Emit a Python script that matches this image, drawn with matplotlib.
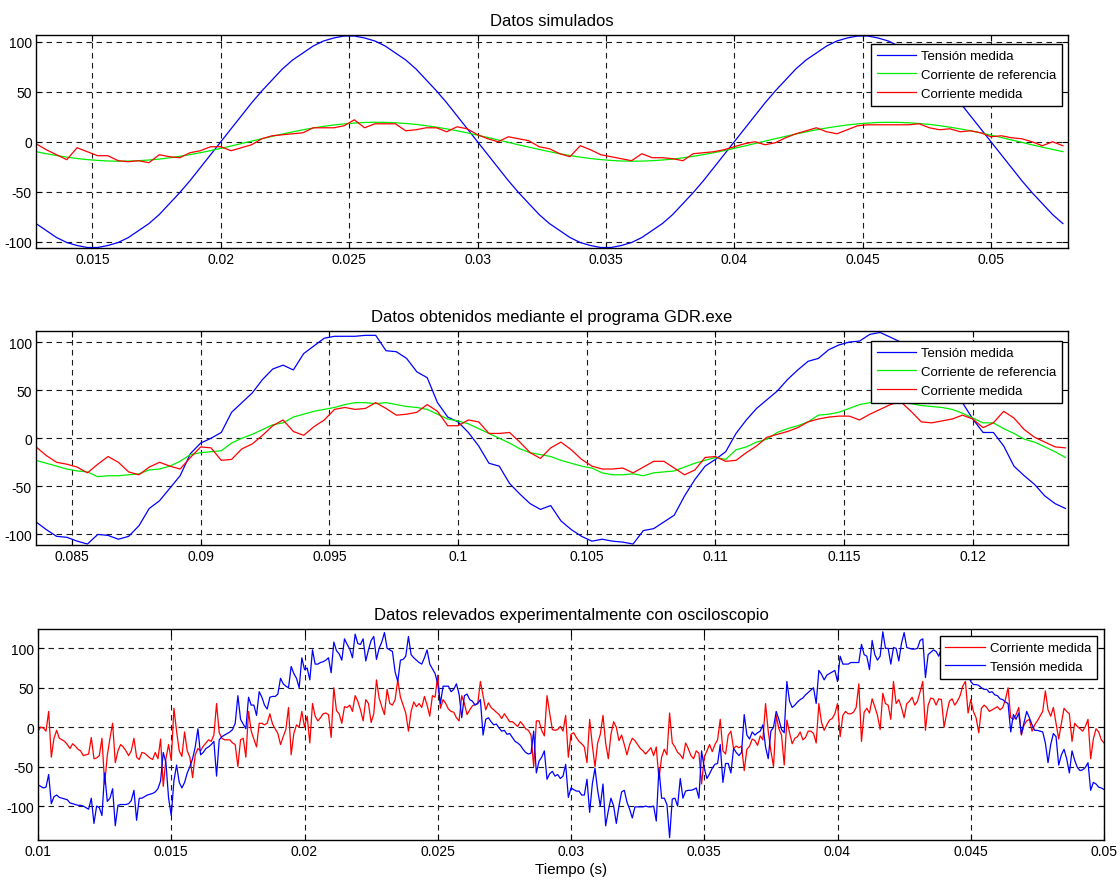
import numpy as np
import matplotlib
matplotlib.use("Agg")
import matplotlib.pyplot as plt
from matplotlib.ticker import FixedLocator, FuncFormatter

plt.rcParams['font.family'] = ['Liberation Sans', 'DejaVu Sans']

# ---------------- Datos simulados (paso 0.4 ms) ----------------
sim_t0, sim_dt = 0.0128, 0.0004
sim_tension = [
    -82, -89, -96, -101, -104, -106, -106, -104, -101, -96,
    -89, -82, -73, -62, -51, -39, -26, -13, 0, 13,
    26, 39, 51, 62, 73, 82, 89, 96, 101, 104,
    106, 106, 104, 101, 96, 89, 82, 73, 62, 51,
    39, 26, 13, 0, -13, -26, -39, -51, -62, -73,
    -82, -89, -96, -101, -104, -106, -106, -104, -101, -96,
    -89, -82, -73, -62, -51, -39, -26, -13, 0, 13,
    26, 39, 51, 62, 73, 82, 89, 96, 101, 104,
    106, 106, 104, 101, 96, 89, 82, 73, 62, 51,
    39, 26, 13, 0, -13, -26, -39, -51, -62, -73,
    -82]
sim_iref = [
    -9.9, -12.0, -13.8, -15.4, -16.8, -17.9, -18.7, -19.3, -19.5, -19.4,
    -19.0, -18.3, -17.4, -16.1, -14.6, -12.9, -11.0, -8.9, -6.6, -4.3,
    -1.8, 0.6, 3.1, 5.4, 7.7, 9.9, 12.0, 13.8, 15.4, 16.8,
    17.9, 18.7, 19.3, 19.5, 19.4, 19.0, 18.3, 17.4, 16.1, 14.6,
    12.9, 11.0, 8.9, 6.6, 4.3, 1.8, -0.6, -3.1, -5.4, -7.7,
    -9.9, -12.0, -13.8, -15.4, -16.8, -17.9, -18.7, -19.3, -19.5, -19.4,
    -19.0, -18.3, -17.4, -16.1, -14.6, -12.9, -11.0, -8.9, -6.6, -4.3,
    -1.8, 0.6, 3.1, 5.4, 7.7, 9.9, 12.0, 13.8, 15.4, 16.8,
    17.9, 18.7, 19.3, 19.5, 19.4, 19.0, 18.3, 17.4, 16.1, 14.6,
    12.9, 11.0, 8.9, 6.6, 4.3, 1.8, -0.6, -3.1, -5.4, -7.7,
    -9.9]
sim_imed = [
    -2, -8, -13, -18, -6, -10, -14, -14, -19, -20,
    -19, -21, -13, -15, -16, -11, -9, -5, -5, -9,
    -6, -3, 3, 6, 7, 8, 9, 14, 14, 14,
    16, 22, 14, 18, 18, 18, 11, 12, 14, 14,
    10, 15, 13, 7, 3, 0, 5, 3, 1, -5,
    -7, -12, -15, -4, -8, -13, -15, -17, -19, -12,
    -16, -16, -17, -19, -12, -11, -10, -8, -5, -2,
    0, -3, -1, 4, 8, 11, 14, 10, 8, 12,
    16, 17, 17, 17, 17, 17, 18, 14, 12, 13,
    10, 11, 9, 5, 6, 4, 3, 0, -4, 0,
    -4]

# ---------------- Datos GDR.exe (paso 0.4 ms) ----------------
gdr_t0, gdr_dt = 0.0836, 0.0004
gdr_tension = [
    -87, -95, -102, -103, -107, -110, -100, -101, -105, -102,
    -91, -73, -65, -52, -39, -16, -5, 0, 6, 27,
    37, 47, 61, 72, 76, 71, 88, 96, 104, 106,
    106, 106, 107, 107, 91, 90, 83, 69, 63, 37,
    22, 17, 6, -8, -26, -29, -47, -58, -68, -74,
    -70, -86, -95, -102, -107, -105, -107, -108, -110, -96,
    -94, -87, -80, -60, -43, -29, -22, -14, 5, 19,
    31, 40, 49, 61, 71, 80, 83, 92, 97, 100,
    101, 108, 110, 105, 100, 92, 88, 80, 70, 55,
    37, 20, 6, 6, -8, -29, -39, -48, -60, -68,
    -73]
gdr_iref = [
    -23, -26, -29, -32, -34, -35, -40, -39, -39, -38,
    -37, -33, -32, -29, -24, -17, -15, -14, -13, -5,
    0, 4, 9, 14, 16, 22, 25, 28, 30, 32,
    35, 37, 37, 36, 37, 35, 33, 32, 30, 25,
    20, 18, 15, 10, 5, 0, -5, -11, -15, -17,
    -19, -23, -26, -29, -31, -36, -38, -38, -37, -39,
    -36, -35, -34, -30, -26, -23, -20, -22, -12, -9,
    -4, -1, 6, 10, 13, 17, 24, 25, 27, 31,
    35, 37, 38, 38, 37, 36, 34, 33, 32, 30,
    26, 21, 16, 16, 10, 5, -1, -4, -9, -14,
    -20]
gdr_imed = [
    -9, -18, -25, -27, -30, -36, -27, -19, -25, -35,
    -38, -30, -25, -29, -32, -20, -9, -10, -23, -22,
    -11, -6, 3, 13, 19, 7, 3, 12, 19, 30,
    32, 30, 31, 37, 31, 24, 25, 27, 35, 28,
    13, 13, 19, 17, 5, 5, 6, -4, -15, -21,
    -10, -4, -12, -22, -29, -32, -32, -31, -36, -30,
    -24, -24, -31, -38, -33, -20, -19, -24, -23, -15,
    -8, 1, 4, 7, 11, 17, 20, 22, 23, 23,
    19, 25, 30, 35, 38, 28, 17, 16, 18, 20,
    24, 20, 11, 16, 28, 21, 9, 1, -4, -9,
    -10]

# ---------------- Datos de osciloscopio (paso 0.1 ms) ----------------
osc_t0, osc_dt = 0.01, 0.0001
osc_corriente = [
    -5, 0, -1, -5, 20, -38, -14, -4, -14, -16,
    -18, -22, -27, -21, -24, -28, -30, -36, -35, -34,
    -13, -40, -39, -36, -14, -72, -36, -14, 5, -45,
    -30, -22, -25, -30, -36, -30, -14, -38, -41, -32,
    -33, -36, -39, -41, -32, -40, -15, -75, -40, -22,
    -42, 24, -5, -30, -37, -6, -30, -38, -64, -35,
    -27, -30, -24, -20, -16, -18, -10, 30, -7, -14,
    -16, -16, -16, -20, -22, -50, -16, -14, -38, 20,
    -5, -15, -25, 5, 5, 3, 5, 17, 4, -2,
    -8, -22, -12, -3, 25, -35, -8, 3, 0, 20,
    0, 14, -20, 30, 14, 8, 12, 17, 18, 16,
    -13, 50, 21, 17, 5, 26, 25, 28, 20, 40,
    33, 22, 8, 35, 30, 6, 17, 60, 37, 26,
    16, 48, 30, 28, 35, 60, 38, 28, 18, -5,
    20, 32, 26, 30, 25, 39, 28, 14, 40, 38,
    66, 24, 35, 30, 23, 20, 19, 12, 8, 40,
    30, 16, 22, 27, 29, 30, 58, 40, 22, 31,
    25, 22, 19, 16, 11, 17, 12, 7, 7, 4,
    1, 7, 3, -2, -4, -10, -50, 8, 8, -4,
    -11, 40, 18, -3, -4, -3, 1, -5, 15, -38,
    -9, -7, -13, -18, -21, -25, -45, 10, -23, -50,
    -20, -9, 15, -20, -40, -9, 7, 0, -17, -10,
    -22, -35, -22, -14, -17, -22, -27, -30, -34, -30,
    -26, -36, -25, -66, -38, -28, -35, 18, -20, -25,
    -32, -35, -40, -20, -27, -36, -40, -30, -33, -72,
    -38, -30, -22, -31, -22, -16, 10, -30, -34, -10,
    -5, -27, -24, -26, -24, -55, -28, -24, -15, -17,
    -23, -11, -16, 30, -5, -30, -50, 15, -2, -10,
    -48, 9, -7, -21, -14, -12, -6, -16, -13, -5,
    -5, -8, -20, 30, 6, -4, 3, 9, 11, 17,
    30, -12, 15, 20, 17, 17, 19, 25, 55, -18,
    19, 24, 18, 36, 26, 15, -3, 43, 30, 28,
    10, 58, 30, 35, 25, 12, 30, 33, 38, 28,
    33, 45, 58, -4, 28, 37, 36, 28, 36, 35,
    0, 18, 33, 36, 28, 33, 40, 52, 58, 18,
    35, 20, 12, -7, 24, 28, 25, 20, 22, 24,
    26, 22, 25, 35, 50, 12, 10, 16, 25, -10,
    3, 8, 10, -5, 3, 8, 14, 20, 46, 22,
    14, 25, 5, -15, 5, 24, 20, 17, -18, 5,
    1, -2, -5, 1, 10, -40, -15, -2, -6, -16,
    -20]
osc_tension = [
    -73, -75, -77, -76, -60, -97, -88, -86, -89, -90,
    -91, -92, -96, -97, -98, -99, -99, -100, -102, -104,
    -90, -122, -100, -102, -112, -58, -94, -90, -78, -125,
    -99, -98, -98, -98, -97, -93, -80, -118, -90, -90,
    -88, -86, -85, -84, -82, -78, -68, -32, -45, -90,
    -112, -68, -48, -70, -77, -70, -58, -50, -40, -25,
    -2, -35, -32, -27, -25, -22, -18, -62, -16, -12,
    -10, -8, -6, -3, 5, 40, 10, 4, -2, 38,
    28, 28, 15, 45, 38, 28, 23, 38, 39, 39,
    42, 62, 55, 52, 50, 77, 68, 62, 50, 88,
    73, 75, 60, 98, 80, 80, 82, 83, 85, 88,
    69, 108, 97, 93, 85, 112, 105, 99, 88, 118,
    106, 105, 112, 84, 98, 110, 115, 86, 100, 108,
    120, 100, 98, 96, 70, 58, 85, 86, 90, 115,
    92, 88, 85, 82, 80, 88, 98, 80, 74, 68,
    55, 30, 52, 52, 52, 45, 48, 55, 42, 12,
    40, 42, 35, 33, 28, 30, 35, -10, 10, 12,
    7, 3, 4, -1, -5, -4, -9, -8, -13, -18,
    -20, -23, -28, -32, -34, -33, -5, -58, -43, -38,
    -30, -66, -59, -56, -62, -60, -65, -62, -47, -89,
    -77, -79, -81, -81, -86, -86, -66, -108, -72, -52,
    -80, -100, -72, -125, -106, -90, -100, -122, -100, -82,
    -80, -95, -104, -115, -101, -101, -101, -101, -100, -101,
    -101, -100, -119, -52, -90, -90, -98, -140, -91, -90,
    -100, -65, -90, -81, -80, -80, -79, -77, -90, -30,
    -52, -65, -59, -52, -47, -46, -22, -70, -46, -46,
    -58, -27, -32, -36, -32, 16, -10, -15, -6, -10,
    -7, -5, 3, -25, -40, -5, 0, 20, 10, -3,
    -7, 58, 33, 25, 28, 32, 35, 37, 41, 44,
    47, 50, 30, 72, 67, 60, 66, 68, 70, 72,
    58, 90, 80, 80, 80, 82, 82, 82, 82, 105,
    92, 90, 73, 110, 92, 85, 90, 121, 100, 100,
    80, 101, 100, 84, 106, 120, 101, 100, 99, 99,
    100, 110, 112, 63, 92, 95, 98, 96, 90, 100,
    94, 88, 92, 85, 80, 86, 78, 75, 70, 66,
    58, 54, 54, 53, 50, 48, 48, 44, 45, 41,
    40, 36, 35, 32, 30, -6, 16, 10, 18, -9,
    6, 20, 12, 3, -4, -4, -5, -6, -20, -45,
    -22, -8, -12, -48, -35, -28, -40, -58, -30, -42,
    -51, -55, -54, -51, -45, -80, -70, -72, -76, -77,
    -79]

titles = ["Datos simulados",
          "Datos obtenidos mediante el programa GDR.exe",
          "Datos relevados experimentalmente con osciloscopio"]
lbl_tension = "Tensión medida"
lbl_iref = "Corriente de referencia"
lbl_imed = "Corriente medida"
xticks_sim = [0.015, 0.02, 0.025, 0.03, 0.035, 0.04, 0.045, 0.05]
xticks_gdr = [0.085, 0.09, 0.095, 0.1, 0.105, 0.11, 0.115, 0.12]
xticks_osc = [0.01, 0.015, 0.02, 0.025, 0.03, 0.035, 0.04, 0.045, 0.05]
yticks = [-100, -50, 0, 50, 100]

BLUE, GREEN, RED = "#0000ff", "#00ee00", "#ff0000"
W, H = 1120, 887


def time_axis(t0, dt, n):
    return t0 + dt * np.arange(n)


def style(ax, xlim, ylim, xticks, title):
    ax.set_xlim(*xlim)
    ax.set_ylim(*ylim)
    ax.xaxis.set_major_locator(FixedLocator(xticks))
    ax.yaxis.set_major_locator(FixedLocator(yticks))
    ax.xaxis.set_major_formatter(FuncFormatter(lambda v, p: "%g" % round(v, 4)))
    ax.yaxis.set_major_formatter(FuncFormatter(lambda v, p: "%g" % v))
    ax.grid(True, color="0.1", linestyle=(0, (5, 4)), linewidth=0.8)
    ax.tick_params(direction="in", length=4, width=0.8, top=True, right=True,
                   labelsize=10, pad=3, colors="k")
    for s in ax.spines.values():
        s.set_linewidth(1.0)
        s.set_color("k")
    ax.set_title(title, fontsize=12, pad=7)


def add_axes(fig, left, top, right, bottom):
    return fig.add_axes([left / W, 1 - bottom / H, (right - left) / W, (bottom - top) / H])


def add_legend(ax, anchor):
    leg = ax.legend(loc="upper right", bbox_to_anchor=anchor, borderaxespad=0,
                    fontsize=9.5, frameon=True, fancybox=False, framealpha=1,
                    edgecolor="k", handlelength=3.0, handletextpad=0.35,
                    borderpad=0.45, labelspacing=0.5)
    leg.get_frame().set_linewidth(1.0)


fig = plt.figure(figsize=(W / 100, H / 100), dpi=100)

# Panel 1
ax1 = add_axes(fig, 36, 36, 1068, 249)
t1 = time_axis(sim_t0, sim_dt, len(sim_tension))
ax1.plot(t1, sim_tension, color=BLUE, lw=0.9, label=lbl_tension)
ax1.plot(t1, sim_iref, color=GREEN, lw=0.9, label=lbl_iref)
ax1.plot(t1, sim_imed, color=RED, lw=0.9, label=lbl_imed)
style(ax1, (0.0128, 0.0530), (-106.5, 107), xticks_sim, titles[0])
add_legend(ax1, (0.9942, 0.9577))

# Panel 2
ax2 = add_axes(fig, 36, 332, 1068, 546)
t2 = time_axis(gdr_t0, gdr_dt, len(gdr_tension))
ax2.plot(t2, gdr_tension, color=BLUE, lw=0.9, label=lbl_tension)
ax2.plot(t2, gdr_iref, color=GREEN, lw=0.9, label=lbl_iref)
ax2.plot(t2, gdr_imed, color=RED, lw=0.9, label=lbl_imed)
style(ax2, (0.0836, 0.1237), (-111, 111.5), xticks_gdr, titles[1])
add_legend(ax2, (0.9942, 0.953))

# Panel 3
ax3 = add_axes(fig, 38, 630, 1104, 841)
t3 = time_axis(osc_t0, osc_dt, len(osc_corriente))
ax3.plot(t3, osc_corriente, color=RED, lw=0.9, label=lbl_imed)
ax3.plot(t3, osc_tension, color=BLUE, lw=0.9, label=lbl_tension)
style(ax3, (0.01, 0.05), (-143, 124.5), xticks_osc, titles[2])
ax3.set_xlabel("Tiempo (s)", fontsize=11, labelpad=3)
add_legend(ax3, (0.9934, 0.967))

fig.savefig("out.png", dpi=100)
